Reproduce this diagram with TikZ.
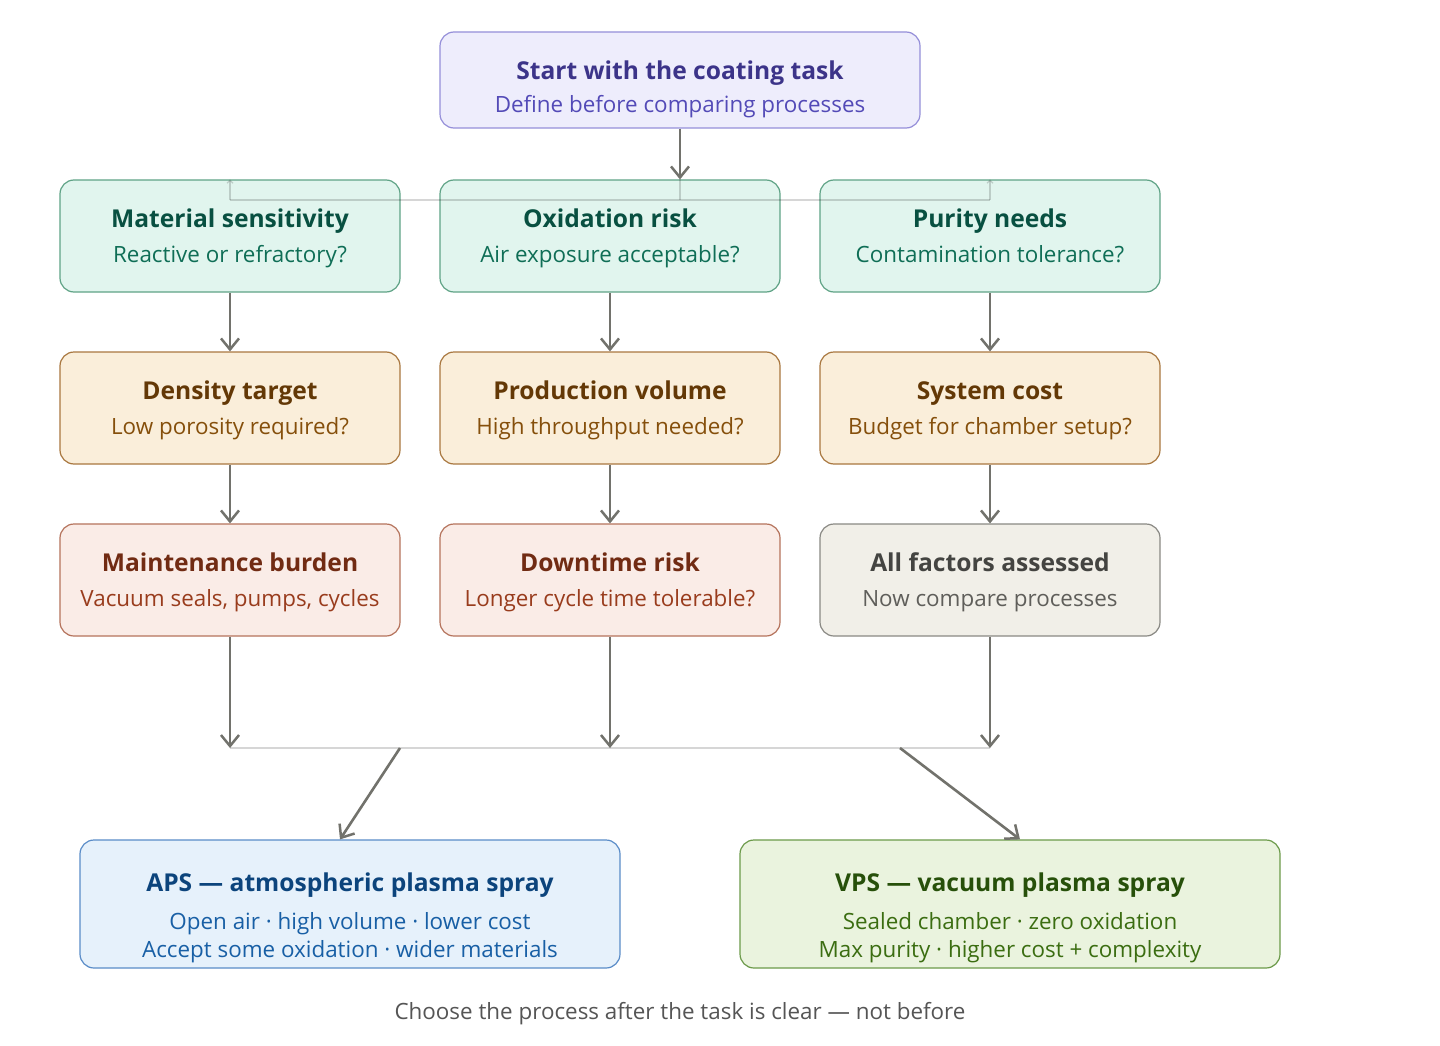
\documentclass[tikz,border=0pt]{standalone}
\usepackage{fontspec}
\setmainfont{Open Sans}
\usetikzlibrary{arrows.meta}
\definecolor{arrowgray}{HTML}{72726C}
\definecolor{stFill}{HTML}{EEEDFC}\definecolor{stDraw}{HTML}{958FD9}\definecolor{stT}{HTML}{3C3489}\definecolor{stS}{HTML}{534AB7}
\definecolor{grFill}{HTML}{E1F5EE}\definecolor{grDraw}{HTML}{5FA386}\definecolor{grT}{HTML}{085041}\definecolor{grS}{HTML}{0F6E56}
\definecolor{amFill}{HTML}{FAEEDA}\definecolor{amDraw}{HTML}{A9773F}\definecolor{amT}{HTML}{633806}\definecolor{amS}{HTML}{854F0B}
\definecolor{coFill}{HTML}{FAECE7}\definecolor{coDraw}{HTML}{B5735C}\definecolor{coT}{HTML}{712B13}\definecolor{coS}{HTML}{993C1D}
\definecolor{gyFill}{HTML}{F1EFE8}\definecolor{gyDraw}{HTML}{8A8984}\definecolor{gyT}{HTML}{444441}\definecolor{gyS}{HTML}{5F5E5A}
\definecolor{blFill}{HTML}{E6F1FB}\definecolor{blDraw}{HTML}{5A8CC8}\definecolor{blT}{HTML}{0C447C}\definecolor{blS}{HTML}{185FA5}
\definecolor{lgFill}{HTML}{EAF3DE}\definecolor{lgDraw}{HTML}{6C9A4A}\definecolor{lgT}{HTML}{27500A}\definecolor{lgS}{HTML}{3B6D11}
\definecolor{capgray}{HTML}{555555}
\newcommand{\tfont}{\fontsize{24.6}{28}\selectfont\bfseries}
\newcommand{\sfont}{\fontsize{22.4}{26}\selectfont}
\tikzset{
  box/.style={rounded corners=14pt, line width=1.2pt, inner sep=0pt, minimum width=340pt, minimum height=112pt},
  ttl/.style={anchor=base, inner sep=0pt, font=\tfont},
  sub/.style={anchor=base, inner sep=0pt, font=\sfont},
  flow/.style={draw=arrowgray, line width=2.6pt, -{Straight Barb[length=11pt,width=18pt,line width=2.5pt]}},
  faint/.style={draw=black, draw opacity=0.16, line width=2pt},
  fainttip/.style={faint, -{Straight Barb[length=3pt,width=6pt,line width=1.2pt]}}
}
\begin{document}
\begin{tikzpicture}[x=1pt,y=-1pt]
\useasboundingbox[fill=white] (0,0) rectangle (1440,1046);
% boxes
\node[box, fill=stFill, draw=stDraw, minimum width=480pt, minimum height=96pt] (start) at (680,80) {};
\node[box, fill=grFill, draw=grDraw] (mat) at (230,236) {};
\node[box, fill=grFill, draw=grDraw] (oxi) at (610,236) {};
\node[box, fill=grFill, draw=grDraw] (pur) at (990,236) {};
\node[box, fill=amFill, draw=amDraw] (den) at (230,408) {};
\node[box, fill=amFill, draw=amDraw] (pro) at (610,408) {};
\node[box, fill=amFill, draw=amDraw] (sys) at (990,408) {};
\node[box, fill=coFill, draw=coDraw] (mai) at (230,580) {};
\node[box, fill=coFill, draw=coDraw] (dow) at (610,580) {};
\node[box, fill=gyFill, draw=gyDraw] (all) at (990,580) {};
\node[box, fill=blFill, draw=blDraw, minimum width=540pt, minimum height=128pt] (aps) at (350,904) {};
\node[box, fill=lgFill, draw=lgDraw, minimum width=540pt, minimum height=128pt] (vps) at (1010,904) {};
% texts
\node[ttl, text=stT] (startT) at (680,80) {Start with the coating task};
\node[sub, text=stS] (startS) at (680,113) {Define before comparing processes};
\node[ttl, text=grT] (matT) at (230,227) {Material sensitivity};
\node[sub, text=grS] (matS) at (230,262) {Reactive or refractory?};
\node[ttl, text=grT] (oxiT) at (610,227) {Oxidation risk};
\node[sub, text=grS] (oxiS) at (610,262) {Air exposure acceptable?};
\node[ttl, text=grT] (purT) at (990,227) {Purity needs};
\node[sub, text=grS] (purS) at (990,262) {Contamination tolerance?};
\node[ttl, text=amT] (denT) at (230,399) {Density target};
\node[sub, text=amS] (denS) at (230,434) {Low porosity required?};
\node[ttl, text=amT] (proT) at (610,399) {Production volume};
\node[sub, text=amS] (proS) at (610,434) {High throughput needed?};
\node[ttl, text=amT] (sysT) at (990,399) {System cost};
\node[sub, text=amS] (sysS) at (990,434) {Budget for chamber setup?};
\node[ttl, text=coT] (maiT) at (230,571) {Maintenance burden};
\node[sub, text=coS] (maiS) at (230,606) {Vacuum seals, pumps, cycles};
\node[ttl, text=coT] (dowT) at (610,571) {Downtime risk};
\node[sub, text=coS] (dowS) at (610,606) {Longer cycle time tolerable?};
\node[ttl, text=gyT] (allT) at (990,571) {All factors assessed};
\node[sub, text=gyS] (allS) at (990,606) {Now compare processes};
\node[ttl, text=blT] (apsT) at (350,891) {APS — atmospheric plasma spray};
\node[sub, text=blS] (apsS1) at (350,929) {Open air · high volume · lower cost};
\node[sub, text=blS] (apsS2) at (350,957) {Accept some oxidation · wider materials};
\node[ttl, text=lgT] (vpsT) at (1010,891) {VPS — vacuum plasma spray};
\node[sub, text=lgS] (vpsS1) at (1010,929) {Sealed chamber · zero oxidation};
\node[sub, text=lgS] (vpsS2) at (1010,957) {Max purity · higher cost + complexity};
\node[sub, text=capgray] (caption) at (680,1019) {Choose the process after the task is clear — not before};
% coordinates
\coordinate (fork) at (680,200);
\coordinate (forkL) at (230,200);
\coordinate (forkR) at (990,200);
\coordinate (m1) at (230,748);
\coordinate (m2) at (610,748);
\coordinate (m3) at (990,748);
\coordinate (outL) at (400,748);
\coordinate (outR) at (900,748);
% top fork
\draw[flow] (start.south) -- (start.south |- oxi.north);
\draw[faint] (start.south |- oxi.north) -- (fork);
\draw[faint] (forkL) -- (forkR);
\draw[fainttip] (forkL) -- (mat.north);
\draw[fainttip] (forkR) -- (pur.north);
% columns
\draw[flow] (mat.south) -- (den.north);
\draw[flow] (oxi.south) -- (pro.north);
\draw[flow] (pur.south) -- (sys.north);
\draw[flow] (den.south) -- (mai.north);
\draw[flow] (pro.south) -- (dow.north);
\draw[flow] (sys.south) -- (all.north);
\draw[flow] (mai.south) -- (m1);
\draw[flow] (dow.south) -- (m2);
\draw[flow] (all.south) -- (m3);
\draw[faint] (m1) -- (m3);
\draw[flow] (outL) -- (aps.north -| 340,0);
\draw[flow] (outR) -- (vps.north -| 1020,0);
\end{tikzpicture}
\end{document}
